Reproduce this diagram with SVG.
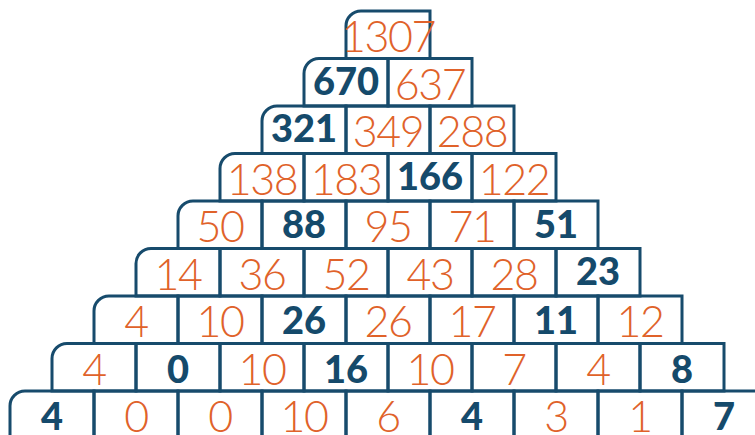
<svg xmlns="http://www.w3.org/2000/svg" width="755" height="435" viewBox="0 0 755 435">
<style>
.c{fill:none;stroke:#174b6c;stroke-width:3}
.b{font-family:Lato,"Open Sans","Liberation Sans",sans-serif;font-weight:900;font-size:38px;fill:#154a6b;text-anchor:middle}
.o{font-family:"Lato Light",Lato,"Open Sans","Liberation Sans",sans-serif;font-weight:300;font-size:43px;letter-spacing:-1.5px;fill:#e0622a;text-anchor:middle}
</style>
<rect width="755" height="435" fill="#fff"/>
<g id="row0">
<g id="c0_0"><path class="c" d="M346,58.5V26A15,15 0 0 1 361,11H430V58.5Z"/><text class="o" x="388" y="52">1307</text></g>
</g>
<g id="row1">
<g id="c1_0"><path class="c" d="M304,106V73.5A15,15 0 0 1 319,58.5H388V106Z"/><text class="b" x="346" y="95">670</text></g>
<g id="c1_1"><rect class="c" x="388" y="58.5" width="84" height="47.5"/><text class="o" x="430" y="99.5">637</text></g>
</g>
<g id="row2">
<g id="c2_0"><path class="c" d="M262,153.5V121A15,15 0 0 1 277,106H346V153.5Z"/><text class="b" x="304" y="142">321</text></g>
<g id="c2_1"><rect class="c" x="346" y="106" width="84" height="47.5"/><text class="o" x="388" y="147">349</text></g>
<g id="c2_2"><rect class="c" x="430" y="106" width="84" height="47.5"/><text class="o" x="472" y="147">288</text></g>
</g>
<g id="row3">
<g id="c3_0"><path class="c" d="M220,201V168.5A15,15 0 0 1 235,153.5H304V201Z"/><text class="o" x="262" y="194.5">138</text></g>
<g id="c3_1"><rect class="c" x="304" y="153.5" width="84" height="47.5"/><text class="o" x="346" y="194.5">183</text></g>
<g id="c3_2"><rect class="c" x="388" y="153.5" width="84" height="47.5"/><text class="b" x="430" y="189.5">166</text></g>
<g id="c3_3"><rect class="c" x="472" y="153.5" width="84" height="47.5"/><text class="o" x="514" y="194.5">122</text></g>
</g>
<g id="row4">
<g id="c4_0"><path class="c" d="M178,248.5V216A15,15 0 0 1 193,201H262V248.5Z"/><text class="o" x="220" y="242">50</text></g>
<g id="c4_1"><rect class="c" x="262" y="201" width="84" height="47.5"/><text class="b" x="304" y="238">88</text></g>
<g id="c4_2"><rect class="c" x="346" y="201" width="84" height="47.5"/><text class="o" x="388" y="242">95</text></g>
<g id="c4_3"><rect class="c" x="430" y="201" width="84" height="47.5"/><text class="o" x="472" y="242">71</text></g>
<g id="c4_4"><rect class="c" x="514" y="201" width="84" height="47.5"/><text class="b" x="556" y="238">51</text></g>
</g>
<g id="row5">
<g id="c5_0"><path class="c" d="M136,296V263.5A15,15 0 0 1 151,248.5H220V296Z"/><text class="o" x="178" y="289.5">14</text></g>
<g id="c5_1"><rect class="c" x="220" y="248.5" width="84" height="47.5"/><text class="o" x="262" y="289.5">36</text></g>
<g id="c5_2"><rect class="c" x="304" y="248.5" width="84" height="47.5"/><text class="o" x="346" y="289.5">52</text></g>
<g id="c5_3"><rect class="c" x="388" y="248.5" width="84" height="47.5"/><text class="o" x="430" y="289.5">43</text></g>
<g id="c5_4"><rect class="c" x="472" y="248.5" width="84" height="47.5"/><text class="o" x="514" y="289.5">28</text></g>
<g id="c5_5"><rect class="c" x="556" y="248.5" width="84" height="47.5"/><text class="b" x="598" y="284.5">23</text></g>
</g>
<g id="row6">
<g id="c6_0"><path class="c" d="M94,343.5V311A15,15 0 0 1 109,296H178V343.5Z"/><text class="o" x="136" y="337">4</text></g>
<g id="c6_1"><rect class="c" x="178" y="296" width="84" height="47.5"/><text class="o" x="220" y="337">10</text></g>
<g id="c6_2"><rect class="c" x="262" y="296" width="84" height="47.5"/><text class="b" x="304" y="333.5">26</text></g>
<g id="c6_3"><rect class="c" x="346" y="296" width="84" height="47.5"/><text class="o" x="388" y="337">26</text></g>
<g id="c6_4"><rect class="c" x="430" y="296" width="84" height="47.5"/><text class="o" x="472" y="337">17</text></g>
<g id="c6_5"><rect class="c" x="514" y="296" width="84" height="47.5"/><text class="b" x="556" y="333.5">11</text></g>
<g id="c6_6"><rect class="c" x="598" y="296" width="84" height="47.5"/><text class="o" x="640" y="337">12</text></g>
</g>
<g id="row7">
<g id="c7_0"><path class="c" d="M52,391V358.5A15,15 0 0 1 67,343.5H136V391Z"/><text class="o" x="94" y="384.5">4</text></g>
<g id="c7_1"><rect class="c" x="136" y="343.5" width="84" height="47.5"/><text class="b" x="178" y="382.5">0</text></g>
<g id="c7_2"><rect class="c" x="220" y="343.5" width="84" height="47.5"/><text class="o" x="262" y="384.5">10</text></g>
<g id="c7_3"><rect class="c" x="304" y="343.5" width="84" height="47.5"/><text class="b" x="346" y="382.5">16</text></g>
<g id="c7_4"><rect class="c" x="388" y="343.5" width="84" height="47.5"/><text class="o" x="430" y="384.5">10</text></g>
<g id="c7_5"><rect class="c" x="472" y="343.5" width="84" height="47.5"/><text class="o" x="514" y="384.5">7</text></g>
<g id="c7_6"><rect class="c" x="556" y="343.5" width="84" height="47.5"/><text class="o" x="598" y="384.5">4</text></g>
<g id="c7_7"><rect class="c" x="640" y="343.5" width="84" height="47.5"/><text class="b" x="682" y="382.5">8</text></g>
</g>
<g id="row8">
<g id="c8_0"><path class="c" d="M10,438.5V406A15,15 0 0 1 25,391H94V438.5Z"/><text class="b" x="52" y="430">4</text></g>
<g id="c8_1"><rect class="c" x="94" y="391" width="84" height="47.5"/><text class="o" x="136" y="432">0</text></g>
<g id="c8_2"><rect class="c" x="178" y="391" width="84" height="47.5"/><text class="o" x="220" y="432">0</text></g>
<g id="c8_3"><rect class="c" x="262" y="391" width="84" height="47.5"/><text class="o" x="304" y="432">10</text></g>
<g id="c8_4"><rect class="c" x="346" y="391" width="84" height="47.5"/><text class="o" x="388" y="432">6</text></g>
<g id="c8_5"><rect class="c" x="430" y="391" width="84" height="47.5"/><text class="b" x="472" y="430">4</text></g>
<g id="c8_6"><rect class="c" x="514" y="391" width="84" height="47.5"/><text class="o" x="556" y="432">3</text></g>
<g id="c8_7"><rect class="c" x="598" y="391" width="84" height="47.5"/><text class="o" x="640" y="432">1</text></g>
<g id="c8_8"><rect class="c" x="682" y="391" width="84" height="47.5"/><text class="b" x="724" y="430">7</text></g>
</g>
</svg>
